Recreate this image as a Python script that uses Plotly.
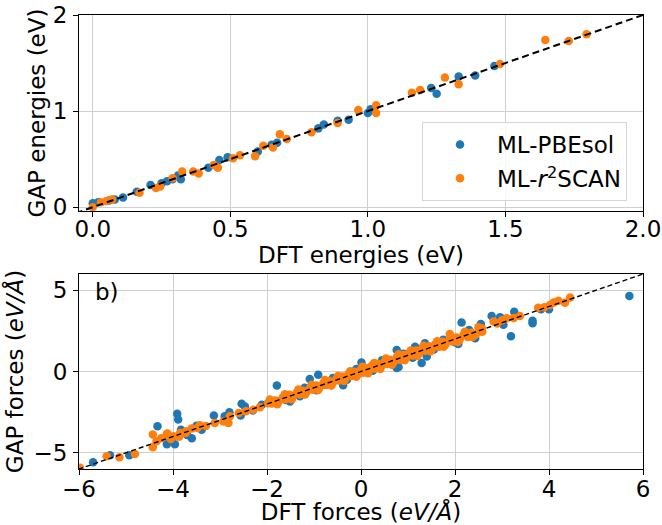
import plotly.graph_objects as go

# ---------------- data ----------------
# a) energies (eV): DFT vs GAP
energy_pbesol_dft = [0.00, 0.02, 0.06, 0.08, 0.11, 0.16, 0.21, 0.25, 0.27, 0.29, 0.31, 0.32,
                     0.42, 0.46, 0.49, 0.60, 0.65, 0.67, 0.82, 0.84, 0.89, 0.93, 1.00, 1.01,
                     1.23, 1.25, 1.33, 1.39, 1.46]
energy_pbesol_gap = [0.04, 0.05, 0.07, 0.08, 0.10, 0.16, 0.23, 0.25, 0.27, 0.29, 0.33, 0.29,
                     0.41, 0.49, 0.52, 0.58, 0.65, 0.67, 0.82, 0.86, 0.90, 0.91, 0.98, 1.02,
                     1.24, 1.18, 1.36, 1.37, 1.47]

energy_r2scan_dft = [0.00, 0.03, 0.05, 0.07, 0.17, 0.23, 0.245, 0.29, 0.325, 0.365, 0.385, 0.44,
                     0.455, 0.51, 0.535, 0.59, 0.62, 0.655, 0.68, 0.705, 0.795, 0.89, 0.965, 1.03,
                     1.03, 1.16, 1.19, 1.28, 1.33, 1.48, 1.645, 1.73, 1.795]
energy_r2scan_gap = [0.00, 0.05, 0.065, 0.08, 0.15, 0.20, 0.215, 0.30, 0.37, 0.37, 0.35, 0.44,
                     0.41, 0.51, 0.54, 0.53, 0.64, 0.62, 0.76, 0.71, 0.78, 0.875, 1.01, 1.06,
                     0.98, 1.19, 1.22, 1.35, 1.28, 1.49, 1.74, 1.73, 1.80]

energy_diag = [-0.1, 2.1]

# b) forces (eV/Å): DFT vs GAP
force_pbesol_dft = [-5.70, -5.34, -4.93, -4.33, -4.13, -3.96, -3.91, -3.89, -3.83, -3.60, -3.50, -3.39,
                    -3.13, -2.80, -2.54, -2.47, -2.56, -2.11, -1.79, -1.51, -1.30, -1.09, -0.91, -0.77,
                    -0.38, 0.01, 0.76, 0.76, 0.80, 1.15, 1.29, 1.36, 1.40, 2.07, 2.14, 2.43,
                    2.55, 2.78, 2.96, 3.03, 3.19, 3.26, 3.65, 3.65, 3.83, 4.00, 5.71,
                    -4.05, -3.70, -2.90, -2.30, -1.60, -1.20, -0.95, -0.60, -0.30, -0.10, 0.25,
                    0.45, 0.65, 0.90, 1.10, 1.55, 1.75, 2.00, 2.30]
force_pbesol_gap = [-5.58, -5.15, -5.15, -3.37, -4.47, -4.47, -2.60, -2.96, -3.58, -4.11, -3.34, -3.58,
                    -2.71, -2.51, -1.98, -2.15, -2.70, -2.04, -0.86, -1.84, -1.53, -0.46, -0.20, -0.82,
                    -0.85, 0.55, 1.33, 0.21, 0.27, 1.53, 0.52, 1.74, 0.92, 1.70, 3.01, 2.05,
                    2.93, 3.42, 3.34, 2.87, 2.17, 3.68, 3.13, 2.97, 3.83, 3.83, 4.64,
                    -4.20, -3.90, -2.75, -2.40, -1.75, -1.00, -1.15, -0.40, -0.50, 0.15, 0.05,
                    0.70, 0.45, 1.10, 0.85, 1.35, 1.95, 1.80, 2.55]

force_r2scan_dft = [-5.98, -5.41, -5.14, -4.81, -4.43, -4.43, -4.35, -4.13, -3.99, -3.85, -3.72, -3.43,
                    -3.11, -2.93, -2.79, -2.82, -2.29, -4.12, -3.87, -3.73, -3.48, -4.25, -4.05, -3.60,
                    -3.30, -2.60, -2.45, -2.15,
                    -1.98, -1.90, -1.83, -1.74, -1.66, -1.60, -1.52, -1.45, -1.37, -1.30,
                    -1.24, -1.15, -1.08, -1.02, -0.95, -0.88, -0.80, -0.74, -0.67, -0.60,
                    -0.52, -0.47, -0.40, -0.33, -0.27, -0.20, -0.13, -0.07, 0.00, 0.04,
                    0.10, 0.17, 0.23, 0.30, 0.36, 0.43, 0.50, 0.55, 0.62, 0.70,
                    0.76, 0.83, 0.90, 0.97, 1.03, 1.10, 1.17, 1.24, 1.30, 1.37,
                    1.45, 1.52, 1.58, 1.66, 1.73, 1.80, 1.88, 1.95, 2.03, 2.10,
                    2.18, 2.27, 2.35, 2.44, 2.52, 2.58,
                    -1.94, -1.78, -1.62, -1.47, -1.33, -1.19, -1.05, -0.91, -0.77, -0.63,
                    -0.49, -0.36, -0.23, -0.10, 0.03, 0.15, 0.28, 0.41, 0.53, 0.66,
                    0.80, 0.93, 1.06, 1.20, 1.33, 1.48, 1.62, 1.76, 1.91, 2.06,
                    2.21, 2.37, 2.50,
                    1.89, 2.39, 2.57, 2.82, 3.10, 3.38, 3.77, 4.02, 4.20, 4.34, 4.45,
                    2.90, 3.00, 3.25, 3.90, 4.10]
force_r2scan_gap = [-5.93, -5.21, -5.27, -5.07, -3.88, -4.66, -4.29, -3.85, -3.99, -3.78, -3.68, -3.31,
                    -3.17, -3.07, -2.76, -3.17, -2.35, -3.82, -4.02, -3.78, -3.47, -4.10, -4.15, -3.50,
                    -3.35, -2.55, -2.45, -2.20,
                    -1.95, -1.97, -1.78, -1.80, -1.59, -1.71, -1.43, -1.52, -1.30, -1.41,
                    -1.18, -1.21, -1.00, -1.13, -0.86, -0.97, -0.71, -0.83, -0.58, -0.69,
                    -0.45, -0.55, -0.30, -0.41, -0.17, -0.28, -0.02, -0.19, 0.12, -0.08,
                    0.21, 0.05, 0.35, 0.19, 0.48, 0.32, 0.60, 0.46, 0.73, 0.58,
                    0.88, 0.72, 1.02, 0.85, 1.15, 0.99, 1.29, 1.12, 1.41, 1.27,
                    1.55, 1.40, 1.68, 1.53, 1.83, 1.68, 1.95, 1.85, 2.10, 1.96,
                    2.25, 2.12, 2.38, 2.27, 2.50, 2.44,
                    -1.72, -2.02, -1.40, -1.70, -1.10, -1.42, -0.82, -1.14, -0.52, -0.86,
                    -0.27, -0.58, 0.02, -0.33, 0.30, -0.10, 0.52, 0.16, 0.80, 0.42,
                    1.06, 0.70, 1.30, 0.96, 1.58, 1.24, 1.86, 1.52, 2.14, 1.82,
                    2.44, 2.12, 2.72,
                    2.31, 2.19, 2.66, 3.07, 3.28, 3.42, 3.93, 4.09, 4.36, 4.23, 4.56,
                    2.95, 3.15, 3.30, 3.95, 4.25]

force_diag = [-6.5, 6.5]

series_names = ["ML-PBEsol", "ML-<i>r</i><sup>2</sup>SCAN"]
series_colors = ["#1f77b4", "#ff7f0e"]

# ---------------- figure ----------------
FONT = "DejaVu Sans, Liberation Sans, sans-serif"
FS = 23
MS = 8.5

fig = go.Figure()

fig.add_trace(go.Scatter(x=energy_pbesol_dft, y=energy_pbesol_gap, mode="markers",
                         name=series_names[0], legendgroup="a",
                         marker=dict(color=series_colors[0], size=MS, line=dict(width=0)),
                         xaxis="x", yaxis="y"))
fig.add_trace(go.Scatter(x=energy_r2scan_dft, y=energy_r2scan_gap, mode="markers",
                         name=series_names[1], legendgroup="b",
                         marker=dict(color=series_colors[1], size=MS, line=dict(width=0)),
                         xaxis="x", yaxis="y"))
fig.add_trace(go.Scatter(x=energy_diag, y=energy_diag, mode="lines", showlegend=False,
                         line=dict(color="black", width=2, dash="7px,4px"),
                         xaxis="x", yaxis="y"))

fig.add_trace(go.Scatter(x=force_pbesol_dft, y=force_pbesol_gap, mode="markers",
                         showlegend=False,
                         marker=dict(color=series_colors[0], size=MS, line=dict(width=0)),
                         xaxis="x2", yaxis="y2"))
fig.add_trace(go.Scatter(x=force_r2scan_dft, y=force_r2scan_gap, mode="markers",
                         showlegend=False,
                         marker=dict(color=series_colors[1], size=MS, line=dict(width=0)),
                         xaxis="x2", yaxis="y2"))
fig.add_trace(go.Scatter(x=force_diag, y=force_diag, mode="lines", showlegend=False,
                         line=dict(color="black", width=1.4, dash="5px,3px"),
                         xaxis="x2", yaxis="y2"))

common = dict(showgrid=True, gridcolor="#cfcfcf", gridwidth=1, zeroline=False,
              showline=True, linecolor="black", linewidth=1.2, mirror=True,
              ticks="outside", ticklen=5, tickwidth=1.2, tickcolor="black",
              tickfont=dict(size=FS, color="black", family=FONT), automargin=False)

xdom = [79 / 662, 643 / 662]

fig.update_layout(
    width=662, height=525,
    margin=dict(l=0, r=0, t=0, b=0),
    paper_bgcolor="white", plot_bgcolor="white",
    font=dict(family=FONT, size=FS, color="black"),
    xaxis=dict(domain=xdom, range=[-0.05, 2.0], dtick=0.5, tick0=0, tickformat=".1f",
               anchor="y", ticklabelstandoff=-8,
               title=dict(text="DFT energies (eV)", font=dict(size=FS), standoff=4), **common),
    yaxis=dict(domain=[1 - 211 / 525, 1 - 15 / 525], range=[-0.04, 2.0], dtick=1, tick0=0,
               anchor="x", ticklabelstandoff=1,
               title=dict(text="GAP energies (eV)", font=dict(size=FS), standoff=0), **common),
    xaxis2=dict(domain=xdom, range=[-6, 6], dtick=2, tick0=0, anchor="y2", ticklabelstandoff=-6,
                title=dict(text="DFT forces (<i>eV/Å</i>)", font=dict(size=FS), standoff=4), **common),
    yaxis2=dict(domain=[1 - 469 / 525, 1 - 274 / 525], range=[-6, 6], dtick=5, tick0=0,
                anchor="x2", ticklabelstandoff=1,
                title=dict(text="GAP forces (<i>eV/Å</i>)", font=dict(size=FS), standoff=3), **common),
    legend=dict(x=627 / 662, xanchor="right", y=1 - 122 / 525, yanchor="top",
                bgcolor="rgba(255,255,255,0.85)", bordercolor="#d6d6d6", borderwidth=1,
                font=dict(size=FS, family=FONT), tracegroupgap=1, itemwidth=64),
    annotations=[dict(text="b)", xref="x2 domain", yref="y2 domain",
                      x=(93 - 79) / 564, y=(469 - 292) / 195, xanchor="left", yanchor="middle",
                      showarrow=False, font=dict(size=FS, family=FONT, color="black"))],
)

fig.write_html("out.html", config={"displayModeBar": False},
               post_script="document.body.style.margin='0';")
